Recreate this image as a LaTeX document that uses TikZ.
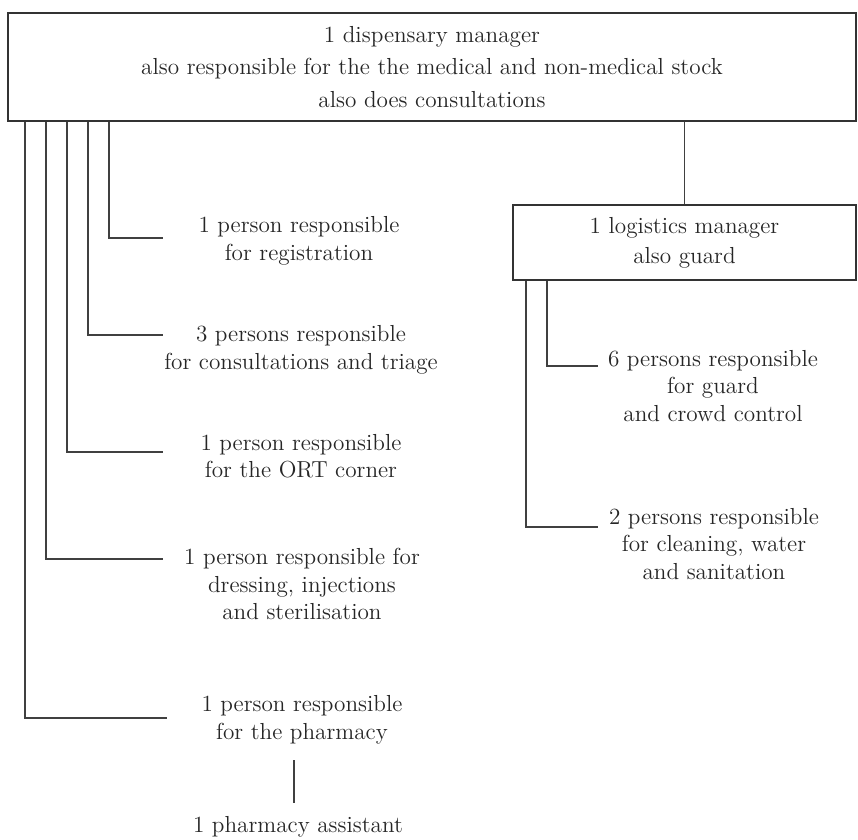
\documentclass[tikz,border=0pt]{standalone}
\usepackage{tikz}
\usetikzlibrary{positioning, calc}

\begin{document}
\begin{tikzpicture}[
  box/.style={draw=black!80, line width=1pt, align=center, inner sep=0pt},
  staff/.style={align=center, text=black!85, font=\fontsize{13.2}{15.6}\selectfont},
  link/.style={draw=black!75, line width=0.7pt}
]
\useasboundingbox (0,0) rectangle (17.16,-16.8);

% Dispensary manager (top)
\node[box, minimum width=16.96cm, minimum height=2.16cm, font=\fontsize{13.2}{18.4}\selectfont, text=black!85]
  (disp) at (8.64,-1.34) {1 dispensary manager\\ also responsible for the the medical and non-medical stock\\ also does consultations};

% Logistics manager
\node[box, minimum width=6.86cm, minimum height=1.5cm, font=\fontsize{13.2}{17}\selectfont, text=black!85]
  (logi) at (13.69,-4.85) {1 logistics manager\\ also guard};
\draw[link] (disp.south -| logi.north) -- (logi.north);

% Staff under the dispensary manager
\node[staff] (reg) at (5.98,-4.82) {1 person responsible\\ for registration};
\node[staff] (cons) at (6.02,-7.00) {3 persons responsible\\ for consultations and triage};
\node[staff] (ort) at (6.02,-9.12) {1 person responsible\\ for the ORT corner};
\node[staff] (dress) at (6.04,-11.68) {1 person responsible for\\ dressing, injections\\ and sterilisation};
\node[staff] (pharm) at (6.04,-14.40) {1 person responsible\\ for the pharmacy};
\node[staff] (asst) at (5.96,-16.54) {1 pharmacy assistant};

\coordinate (reg-bend) at (2.18,-4.76);   \coordinate (reg-end) at (3.26,-4.76);
\coordinate (cons-bend) at (1.76,-6.70);  \coordinate (cons-end) at (3.26,-6.70);
\coordinate (ort-bend) at (1.34,-9.04);   \coordinate (ort-end) at (3.26,-9.04);
\coordinate (dress-bend) at (0.92,-11.18); \coordinate (dress-end) at (3.26,-11.18);
\coordinate (pharm-bend) at (0.50,-14.36); \coordinate (pharm-end) at (3.34,-14.36);

\draw[link] (disp.south -| reg-bend) -- (reg-bend) -- (reg-end);
\draw[link] (disp.south -| cons-bend) -- (cons-bend) -- (cons-end);
\draw[link] (disp.south -| ort-bend) -- (ort-bend) -- (ort-end);
\draw[link] (disp.south -| dress-bend) -- (dress-bend) -- (dress-end);
\draw[link] (disp.south -| pharm-bend) -- (pharm-bend) -- (pharm-end);

% Pharmacy assistant
\draw[link, shorten <=0.2cm, shorten >=0.15cm] ([xshift=-0.16cm]pharm.south) -- ([xshift=-0.16cm]pharm.south |- asst.north);

% Staff under the logistics manager
\node[staff] (guard) at (14.26,-7.72) {6 persons responsible\\ for guard\\ and crowd control};
\node[staff] (clean) at (14.28,-10.88) {2 persons responsible\\ for cleaning, water\\ and sanitation};

\coordinate (guard-bend) at (10.94,-7.32); \coordinate (guard-end) at (11.96,-7.32);
\coordinate (clean-bend) at (10.52,-10.54); \coordinate (clean-end) at (11.96,-10.54);

\draw[link] (logi.south -| guard-bend) -- (guard-bend) -- (guard-end);
\draw[link] (logi.south -| clean-bend) -- (clean-bend) -- (clean-end);
\end{tikzpicture}
\end{document}
